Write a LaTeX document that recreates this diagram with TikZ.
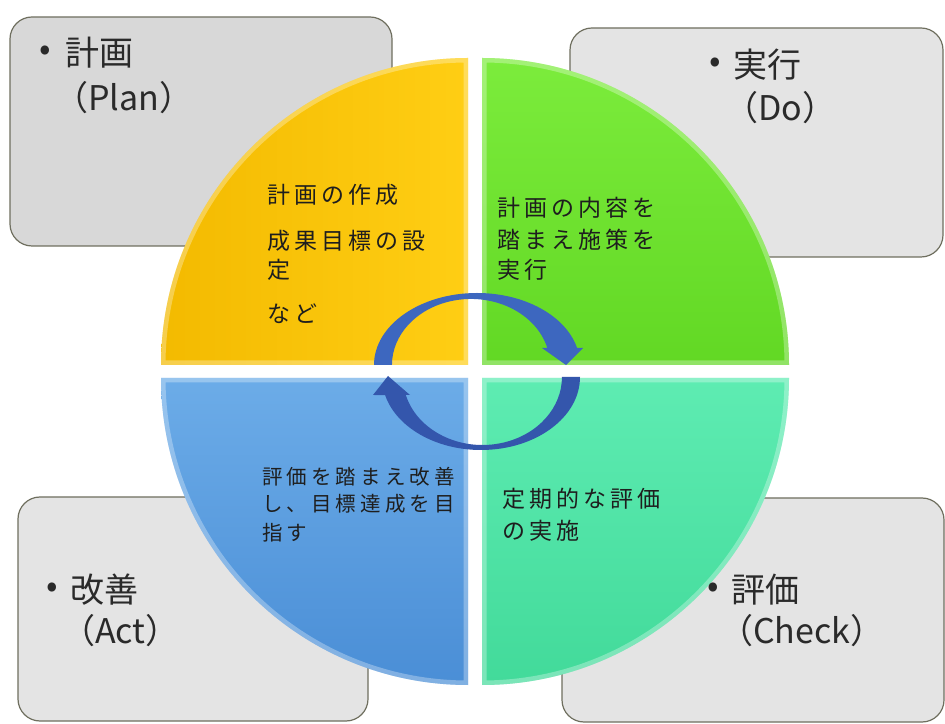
\documentclass[tikz,border=0pt]{standalone}
\usepackage{fontspec}
\newfontfamily\jp{Noto Sans CJK JP}
\newfontfamily\jpls[LetterSpace=18]{Noto Sans CJK JP}
\newfontfamily\jplsb[LetterSpace=20]{Noto Sans CJK JP}
\definecolor{boxfill}{HTML}{E4E4E4}
\definecolor{boxfillA}{HTML}{D8D8D8}
\definecolor{boxline}{HTML}{6F6F5F}
\definecolor{boxtext}{HTML}{2A2A2A}
\definecolor{qtext}{HTML}{1E1E1E}
\definecolor{arr}{HTML}{3D67BF}
\definecolor{arrD}{HTML}{3456AC}
\begin{document}
\begin{tikzpicture}[x=1pt,y=1pt,
  cbox/.style={draw=boxline,line width=1.2pt,rounded corners=22pt},
  rim/.style={draw=white,draw opacity=0.3,line width=9pt},
  bul/.style={inner sep=0pt,font=\jp\fontsize{34}{34}\selectfont,text=boxtext},
  ttl/.style={anchor=west,inner sep=0pt,font=\jp\fontsize{34}{34}\selectfont,text=boxtext},
  qtxt/.style={anchor=base west,inner sep=0pt,font=\jpls\fontsize{23}{23}\selectfont,text=qtext},
  qtxts/.style={anchor=base west,inner sep=0pt,font=\jplsb\fontsize{20.5}{20.5}\selectfont,text=qtext}]
\useasboundingbox (0,0) rectangle (945,723);
\fill[white] (0,0) rectangle (945,723);
% corner boxes
\draw[cbox,fill=boxfillA] (10,477) rectangle (392,706);
\draw[cbox,fill=boxfill] (570,466) rectangle (943,695);
\draw[cbox,fill=boxfill] (18,2) rectangle (368,226);
\draw[cbox,fill=boxfill] (562,1) rectangle (944,225);
% quadrants
\shade[left color={rgb,255:red,243;green,186;blue,0},right color={rgb,255:red,255;green,206;blue,20}]
  (468,358) -- (161,358) arc[start angle=180,end angle=90,radius=307] -- cycle;
\begin{scope}
  \clip (468,358) -- (161,358) arc[start angle=180,end angle=90,radius=307] -- cycle;
  \draw[rim] (468,358) -- (161,358) arc[start angle=180,end angle=90,radius=307] -- cycle;
\end{scope}
\shade[top color={rgb,255:red,124;green,236;blue,60},bottom color={rgb,255:red,98;green,216;blue,36}]
  (482,358) -- (482,665) arc[start angle=90,end angle=0,radius=307] -- cycle;
\begin{scope}
  \clip (482,358) -- (482,665) arc[start angle=90,end angle=0,radius=307] -- cycle;
  \draw[rim] (482,358) -- (482,665) arc[start angle=90,end angle=0,radius=307] -- cycle;
\end{scope}
\shade[top color={rgb,255:red,108;green,172;blue,232},bottom color={rgb,255:red,74;green,142;blue,214}]
  (468,345) -- (161,345) arc[start angle=180,end angle=270,radius=307] -- cycle;
\begin{scope}
  \clip (468,345) -- (161,345) arc[start angle=180,end angle=270,radius=307] -- cycle;
  \draw[rim] (468,345) -- (161,345) arc[start angle=180,end angle=270,radius=307] -- cycle;
\end{scope}
\shade[top color={rgb,255:red,94;green,236;blue,178},bottom color={rgb,255:red,66;green,218;blue,154}]
  (482,345) -- (789,345) arc[start angle=0,end angle=-90,radius=307] -- cycle;
\begin{scope}
  \clip (482,345) -- (789,345) arc[start angle=0,end angle=-90,radius=307] -- cycle;
  \draw[rim] (482,345) -- (789,345) arc[start angle=0,end angle=-90,radius=307] -- cycle;
\end{scope}
% circular arrows
\fill[arr] (374,358) arc[start angle=180,end angle=13.7,x radius=103,y radius=72]
  -- (583,375) -- (566,358) -- (542,375) -- (547.3,375)
  arc[start angle=14.9,end angle=180,x radius=79,y radius=66] -- cycle;
\fill[arrD] (580,346) arc[start angle=0,end angle=-165.7,x radius=99,y radius=73]
  -- (373,328) -- (388,347) -- (410,328) -- (405.8,328)
  arc[start angle=-164.65,end angle=0,x radius=79.5,y radius=68] -- cycle;
% box labels
\node[bul] (pb) at (45,670) {•};
\node[ttl] (pt) at (65,670) {計画};
\node[ttl] (pe) at (54,625) {（Plan）};
\node[bul] (db) at (715,658) {•};
\node[ttl] (dt) at (733,658) {実行};
\node[ttl] (de) at (724,615) {（Do）};
\node[bul] (ab) at (52,133) {•};
\node[ttl] (at) at (70,133) {改善};
\node[ttl] (ae) at (61,92) {（Act）};
\node[bul] (cb) at (713,133) {•};
\node[ttl] (ct) at (731,133) {評価};
\node[ttl] (ce) at (719,92) {（Check）};
% quadrant texts
\node[qtxt] (y1) at (267,519) {計画の作成};
\node[qtxt] (y2) at (267,473) {成果目標の設};
\node[qtxt] (y3) at (267,444) {定};
\node[qtxt] (y4) at (267,400) {など};
\node[qtxt] (g1) at (497,506) {計画の内容を};
\node[qtxt] (g2) at (497,474) {踏まえ施策を};
\node[qtxt] (g3) at (497,444) {実行};
\node[qtxts] (b1) at (262,238) {評価を踏まえ改善};
\node[qtxts] (b2) at (262,211) {し、目標達成を目};
\node[qtxts] (b3) at (262,182) {指す};
\node[qtxt] (t1) at (502,215) {定期的な評価};
\node[qtxt] (t2) at (502,183) {の実施};
\end{tikzpicture}
\end{document}
